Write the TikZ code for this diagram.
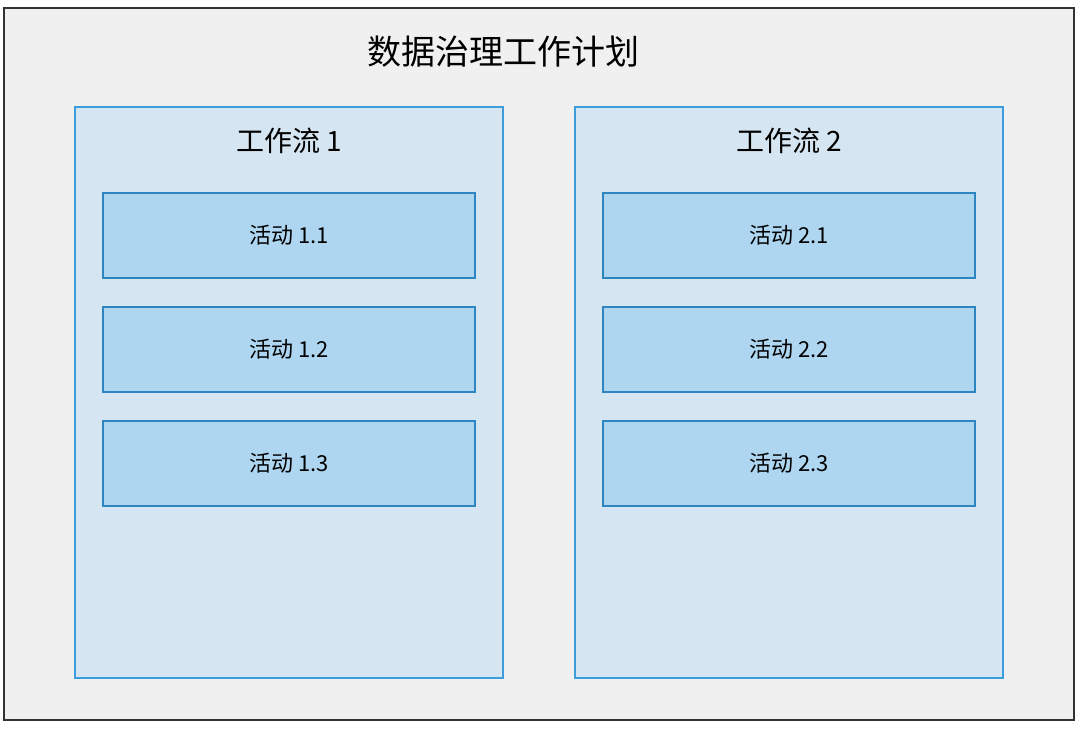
\documentclass[tikz,border=0pt]{standalone}
\usepackage{fontspec}
\setmainfont{Noto Sans CJK SC}
\definecolor{planbg}{HTML}{F0F0F0}
\definecolor{planline}{HTML}{333333}
\definecolor{flowbg}{HTML}{D5E6F2}
\definecolor{flowline}{HTML}{3C9CDC}
\definecolor{actbg}{HTML}{AED6F1}
\definecolor{actline}{HTML}{2E86C1}
\tikzset{
  flowbox/.style={draw=flowline, fill=flowbg, line width=1.5pt},
  actbox/.style={draw=actline, fill=actbg, line width=1.5pt, minimum width=372pt, minimum height=85pt, inner sep=0pt, font=\fontsize{22}{26}\selectfont}
}
\begin{document}
\begin{tikzpicture}[x=1pt,y=-1pt]
  \useasboundingbox (0,0) rectangle (1080,729);
  % Plan frame
  \draw[fill=planbg, draw=planline, line width=1.5pt] (4,8) rectangle (1074,720);
  \node (plan) at (503,52) {\fontsize{34}{40}\selectfont 数据治理工作计划};
  % Work streams
  \foreach \s/\x in {1/75, 2/575} {
    \draw[flowbox] (\x,107) rectangle (\x+428,678);
    \node (flow\s) at (\x+214,141) {\fontsize{28}{32}\selectfont 工作流 \s};
    \foreach \a/\y in {1/235.5, 2/349.5, 3/463.5}
      \node[actbox] (act\s\a) at (\x+214,\y) {活动 \s.\a};
  }
\end{tikzpicture}
\end{document}
